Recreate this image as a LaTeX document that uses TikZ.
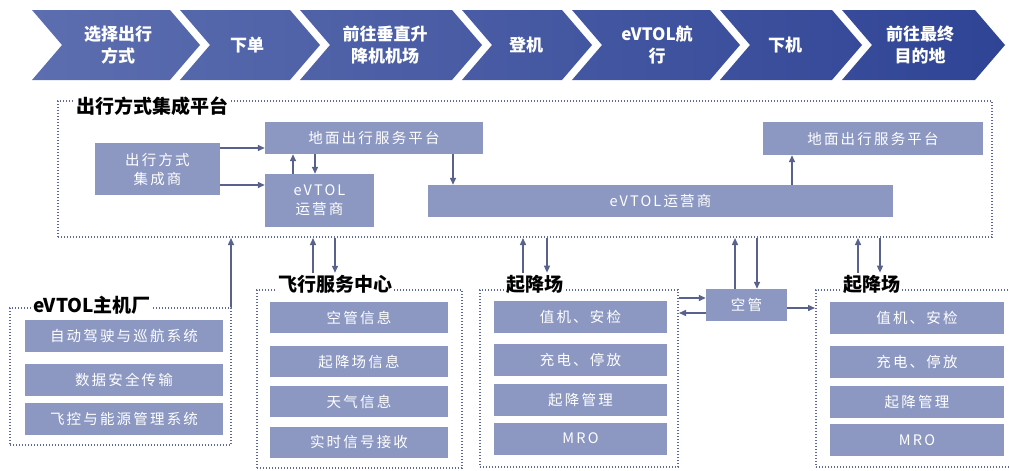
\documentclass[tikz,border=0pt]{standalone}
\usepackage{fontspec}
\setmainfont{Noto Sans CJK SC}
\newfontfamily\boxfont[LetterSpace=15]{Noto Sans CJK SC}
\usetikzlibrary{arrows.meta}
\definecolor{chevL}{RGB}{92,110,175}
\definecolor{chevR}{RGB}{48,68,150}
\definecolor{boxc}{RGB}{140,152,194}
\definecolor{dotc}{RGB}{95,105,150}
\definecolor{arrc}{RGB}{88,98,140}
\begin{document}
\begin{tikzpicture}[x=1pt,y=-1pt,
 ibox/.style={fill=boxc, inner sep=0pt, text=white, font=\boxfont\fontsize{14.5}{19}\selectfont, align=center},
 dbox/.style={draw=dotc, line width=2pt, dash pattern=on 1.4pt off 1.6pt, inner sep=0pt},
 ttl/.style={anchor=west, fill=white, inner sep=2pt, font=\bfseries\fontsize{19}{22}\selectfont},
 ctext/.style={text=white, font=\bfseries\fontsize{17}{22}\selectfont, align=center},
 arr/.style={draw=arrc, line width=1.4pt, -{Triangle[length=7pt,width=6pt]}},
]
\useasboundingbox (0,0) rectangle (1009,471);
\clip (0,0) rectangle (1009,471);

% chevrons
\shade[left color=chevL, right color=chevR]
 (32,10) -- (170,10) -- (200,45) -- (170,80) -- (32,80) -- (62,45) -- cycle
 (180,10) -- (290,10) -- (320,45) -- (290,80) -- (180,80) -- (210,45) -- cycle
 (300,10) -- (452,10) -- (482,45) -- (452,80) -- (300,80) -- (330,45) -- cycle
 (462,10) -- (562,10) -- (592,45) -- (562,80) -- (462,80) -- (492,45) -- cycle
 (572,10) -- (710,10) -- (740,45) -- (710,80) -- (572,80) -- (602,45) -- cycle
 (720,10) -- (832,10) -- (862,45) -- (832,80) -- (720,80) -- (750,45) -- cycle
 (842,10) -- (975,10) -- (1005,45) -- (975,80) -- (842,80) -- (872,45) -- cycle;
\node[ctext] (c1) at (118,45) {选择出行\\方式};
\node[ctext] (c2) at (247,45) {下单};
\node[ctext] (c3) at (385,45) {前往垂直升\\降机机场};
\node[ctext] (c4) at (526,45) {登机};
\node[ctext] (c5) at (657,45) {eVTOL航\\行};
\node[ctext] (c6) at (785,45) {下机};
\node[ctext] (c7) at (920,45) {前往最终\\目的地};

% platform
\node[dbox, minimum width=934, minimum height=136] (plat) at (525,169) {};
\node[ttl] (tplat) at (74,106) {出行方式集成平台};
\node[ibox, minimum width=125, minimum height=52] (ji) at (157.5,169) {出行方式\\集成商};
\node[ibox, minimum width=218, minimum height=32] (gl) at (374,138) {地面出行服务平台};
\node[ibox, minimum width=109, minimum height=53] (ev1) at (319.5,200.5) {eVTOL\\运营商};
\node[ibox, minimum width=465, minimum height=32] (ev2) at (660.5,201) {eVTOL运营商};
\node[ibox, minimum width=220, minimum height=33] (gr) at (873,138.5) {地面出行服务平台};

% OEM
\node[dbox, minimum width=221, minimum height=137] (oem) at (120.5,376.5) {};
\node[ttl] (toem) at (31,305) {eVTOL主机厂};
\node[ibox, minimum width=198, minimum height=32] (o1) at (124,336) {自动驾驶与巡航系统};
\node[ibox, minimum width=198, minimum height=32] (o2) at (124,380) {数据安全传输};
\node[ibox, minimum width=198, minimum height=32] (o3) at (124,419) {飞控与能源管理系统};

% flight service center
\node[dbox, minimum width=205, minimum height=178] (fsc) at (359.5,379) {};
\node[ttl] (tfsc) at (276,284) {飞行服务中心};
\node[ibox, minimum width=178, minimum height=31] (f1) at (359,317.5) {空管信息};
\node[ibox, minimum width=178, minimum height=31] (f2) at (359,361.5) {起降场信息};
\node[ibox, minimum width=178, minimum height=31] (f3) at (359,401.5) {天气信息};
\node[ibox, minimum width=178, minimum height=31] (f4) at (359,442) {实时信号接收};

% left vertiport
\node[dbox, minimum width=198, minimum height=177] (vl) at (579,378.5) {};
\node[ttl] (tvl) at (504,284) {起降场};
\node[ibox, minimum width=173, minimum height=32] (l1) at (580.5,317) {值机、安检};
\node[ibox, minimum width=173, minimum height=32] (l2) at (580.5,360) {充电、停放};
\node[ibox, minimum width=173, minimum height=32] (l3) at (580.5,400) {起降管理};
\node[ibox, minimum width=173, minimum height=32] (l4) at (580.5,438.5) {MRO};

% ATC
\node[ibox, minimum width=81, minimum height=32] (kg) at (746.5,305) {空管};

% right vertiport
\node[dbox, minimum width=204, minimum height=177] (vr) at (918,378.5) {};
\node[ttl] (tvr) at (841,284) {起降场};
\node[ibox, minimum width=174, minimum height=32] (r1) at (917,318) {值机、安检};
\node[ibox, minimum width=174, minimum height=32] (r2) at (917,361.5) {充电、停放};
\node[ibox, minimum width=174, minimum height=32] (r3) at (917,402) {起降管理};
\node[ibox, minimum width=174, minimum height=32] (r4) at (917,440) {MRO};

% arrows inside platform
\draw[arr] ([yshift=21pt]ji.east) -- ([yshift=21pt]ji.east -| gl.west);
\draw[arr] ([yshift=-16pt]ji.east) -- ([yshift=-16pt]ji.east -| ev1.west);
\draw[arr] ([xshift=-26.5pt]ev1.north) -- ([xshift=-26.5pt]ev1.north |- gl.south);
\draw[arr] ([xshift=-4.5pt]ev1.north |- gl.south) -- ([xshift=-4.5pt]ev1.north);
\draw[arr] ([xshift=79pt]gl.south) -- ([xshift=79pt]gl.south |- ev2.north);
\draw[arr] ([xshift=-81pt]gr.south |- ev2.north) -- ([xshift=-81pt]gr.south);

% arrows to platform
\draw[arr] ([xshift=-1pt]oem.north east) -- ([xshift=-1pt]oem.north east |- plat.south);
\draw[arr] ([xshift=-46.5pt]fsc.north |- tfsc.north) -- ([xshift=-46.5pt]fsc.north |- plat.south);
\draw[arr] ([xshift=-24.5pt]fsc.north |- plat.south) -- ([xshift=-24.5pt]fsc.north |- tfsc.north);
\draw[arr] ([xshift=-56pt]vl.north |- tvl.north) -- ([xshift=-56pt]vl.north |- plat.south);
\draw[arr] ([xshift=-32pt]vl.north |- plat.south) -- ([xshift=-32pt]vl.north |- tvl.north);
\draw[arr] ([xshift=-11.5pt]kg.north) -- ([xshift=-11.5pt]kg.north |- plat.south);
\draw[arr] ([xshift=10.5pt]kg.north |- plat.south) -- ([xshift=10.5pt]kg.north);
\draw[arr] ([xshift=-60pt]vr.north |- tvr.north) -- ([xshift=-60pt]vr.north |- plat.south);
\draw[arr] ([xshift=-38pt]vr.north |- plat.south) -- ([xshift=-38pt]vr.north |- tvr.north);

% ATC links
\draw[arr] ([yshift=7pt]kg.west -| vl.east) -- ([yshift=7pt]kg.west);
\draw[arr] ([yshift=-8pt]kg.west) -- ([yshift=-8pt]kg.west -| vl.east);
\draw[arr] ([yshift=-3pt]kg.east) -- ([yshift=-3pt]kg.east -| vr.west);
\end{tikzpicture}
\end{document}
